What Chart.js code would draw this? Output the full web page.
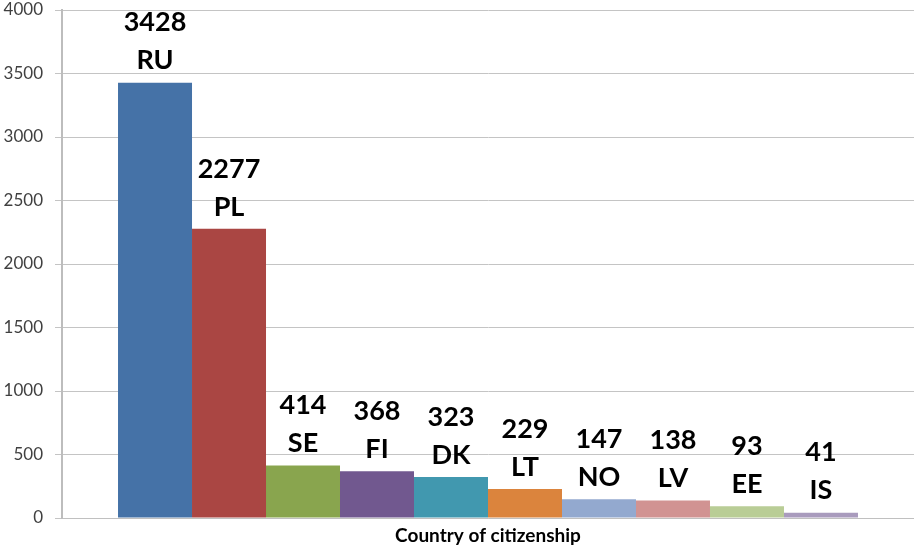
<!DOCTYPE html>
<html>
<head>
<meta charset="utf-8">
<script src="https://cdn.jsdelivr.net/npm/chart.js@4/dist/chart.umd.min.js"></script>
<style>
html,body{margin:0;padding:0;background:#fff;}
#wrap{width:914px;height:547px;position:relative;}
</style>
</head>
<body>
<div id="wrap"><canvas id="c" width="914" height="547"></canvas></div>
<script>
const categories = ["Country of citizenship"];
const countries = ["RU", "PL", "SE", "FI", "DK", "LT", "NO", "LV", "EE", "IS"];
const values = [3428, 2277, 414, 368, 323, 229, 147, 138, 93, 41];
const colors = ["#4572A7", "#AA4643", "#89A54E", "#71588F", "#4198AF", "#DB843D", "#93A9CF", "#D19392", "#B9CD96", "#A99BBD"];
const yTicks = [0, 500, 1000, 1500, 2000, 2500, 3000, 3500, 4000];

const datasets = countries.map((c, i) => ({
  label: c,
  data: [values[i]],
  backgroundColor: colors[i],
  borderWidth: 0,
  categoryPercentage: 0.8685,
  barPercentage: 1.0
}));

const labelPlugin = {
  id: 'barLabels',
  afterDatasetsDraw(chart) {
    const ctx = chart.ctx;
    ctx.save();
    ctx.fillStyle = '#000';
    ctx.textAlign = 'center';
    ctx.textBaseline = 'middle';
    ctx.font = 'bold 27px Lato';
    chart.data.datasets.forEach((ds, i) => {
      const bar = chart.getDatasetMeta(i).data[0];
      const x = bar.x, y = bar.y;
      ctx.fillText(String(values[i]), x, y - 22 - 38);
      ctx.fillText(countries[i], x, y - 22);
    });
    ctx.restore();
  }
};

new Chart(document.getElementById('c'), {
  type: 'bar',
  data: { labels: categories, datasets },
  options: {
    responsive: false,
    animation: false,
    layout: { padding: { top: 10, right: 0, left: 0, bottom: 0 } },
    plugins: { legend: { display: false }, tooltip: { enabled: false } },
    scales: {
      x: {
        grid: { display: false, drawTicks: false },
        border: { display: true, color: '#c0c0c0', width: 1 },
        ticks: { display: false },
        title: {
          display: true,
          text: categories[0],
          color: '#000',
          font: { family: 'Lato', size: 19, weight: 'bold' },
          padding: { top: 4, bottom: 0 }
        },
        afterFit(scale) { scale.height = 29; }
      },
      y: {
        min: 0, max: 4000,
        afterBuildTicks(scale) { scale.ticks = yTicks.map(v => ({ value: v })); },
        grid: { color: '#c4c4c4', lineWidth: 1, tickLength: 7, drawTicks: true },
        border: { display: true, color: '#bdbdbd', width: 2 },
        ticks: {
          color: '#404040',
          padding: 12,
          font: { family: 'Lato', size: 17 },
          callback: (v) => String(v)
        },
        afterFit(scale) { scale.width = 62; scale.paddingTop = 0; scale.paddingBottom = 0; }
      }
    }
  },
  plugins: [labelPlugin]
});
</script>
</body>
</html>
